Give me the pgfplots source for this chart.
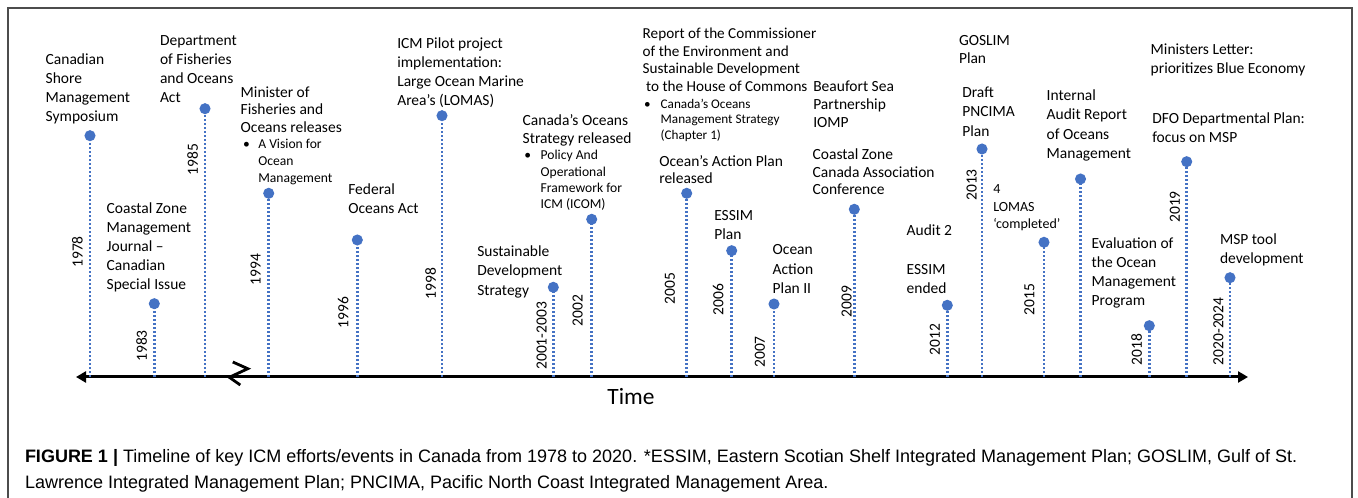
\documentclass[border=0pt]{standalone}
\usepackage{pgfplots}
\pgfplotsset{compat=1.18}
\usepackage{fontspec}
\setmainfont{Carlito}
\newfontfamily\capfont{Liberation Sans}
\usetikzlibrary{arrows.meta}
\definecolor{dotblue}{RGB}{68,114,196}
\newcommand{\blk}[3]{\fontsize{#1}{#2}\selectfont\begin{tabular}[t]{@{}l@{}}#3\end{tabular}}
\begin{document}
\begin{tikzpicture}[lab/.style={anchor=base west, inner sep=0pt, outer sep=0pt},
  yr/.style={rotate=90, anchor=center, inner sep=0pt, font=\fontsize{7.75bp}{9bp}\selectfont}]
\begin{axis}[width=679bp, height=249bp, scale only axis,
  xmin=0, xmax=1358, ymin=-121, ymax=377,
  axis lines=none, clip=false]
% frame
\draw[black!70, line width=0.8bp] (axis cs:8,-125) -- (axis cs:8,369) -- (axis cs:1352,369) -- (axis cs:1352,-125);
% time axis
\addplot[black, line width=1.5bp, {Triangle[length=5bp,width=5.5bp]}-{Triangle[length=5bp,width=5.5bp]}] coordinates {(76,0) (1248,0)};
\addplot[black, line width=1.4bp] coordinates {(232.8,15) (247.8,8.3) (229.3,-0.3) (240.3,-8)};
% stems
\addplot[ycomb, dotblue, line width=1.25bp, dash pattern=on 1bp off 1bp,
  mark=*, mark size=2.1bp, mark options={solid, fill=dotblue, draw=dotblue}] table {
x y
90 241.3
154.3 73.3
205 268.3
268.7 183.7
357.3 137
442 261.3
553.3 89.7
591.7 157.7
686.7 183.7
731.7 126.3
774 73
854.3 167.7
947.3 71.7
982 228
1044 134.7
1080.5 198
1149.3 51.3
1186.7 215.3
1230 99.3
};
% year labels
\node[yr] at (axis cs:77.5,125) {1978};
\node[yr] at (axis cs:141.7,31) {1983};
\node[yr] at (axis cs:192.7,217.5) {1985};
\node[yr] at (axis cs:255.7,107.5) {1994};
\node[yr] at (axis cs:343.3,64.5) {1996};
\node[yr] at (axis cs:430.7,93.3) {1998};
\node[yr] at (axis cs:541.7,41.2) {2001-2003};
\node[yr] at (axis cs:577.7,66.2) {2002};
\node[yr] at (axis cs:670,88.7) {2005};
\node[yr] at (axis cs:718.3,77.5) {2006};
\node[yr] at (axis cs:760,25) {2007};
\node[yr] at (axis cs:846.7,75.3) {2009};
\node[yr] at (axis cs:935,37.5) {2012};
\node[yr] at (axis cs:971.7,192) {2013};
\node[yr] at (axis cs:1029.3,77.5) {2015};
\node[yr] at (axis cs:1136.7,27.5) {2018};
\node[yr] at (axis cs:1175,170) {2019};
\node[yr] at (axis cs:1218.3,45.7) {2020-2024};
% event texts
\node[lab] at (axis cs:45.7,312) {\blk{7.75bp}{9.5bp}{Canadian\\Shore\\Management\\Symposium}};
\node[lab] at (axis cs:160,331.3) {\blk{7.75bp}{9.45bp}{Department\\of Fisheries\\and Oceans\\Act}};
\node[lab] at (axis cs:240.7,279.7) {\blk{7.75bp}{8.75bp}{Minister of\\Fisheries and\\Oceans releases}};
\node[lab] at (axis cs:243,228) {\fontsize{6.8bp}{8bp}\selectfont •};
\node[lab] at (axis cs:258.3,228) {\blk{6.8bp}{8.35bp}{A Vision for\\Ocean\\Management}};
\node[lab] at (axis cs:106.7,163.7) {\blk{7.75bp}{9.5bp}{Coastal Zone\\Management\\Journal –\\Canadian\\Special Issue}};
\node[lab] at (axis cs:348.3,182) {\blk{7.75bp}{9.15bp}{Federal\\Oceans Act}};
\node[lab] at (axis cs:397.3,328.7) {\blk{7.75bp}{9.55bp}{ICM Pilot project\\implementation:\\Large Ocean Marine\\Area’s (LOMAS)}};
\node[lab] at (axis cs:522.7,251) {\blk{7.75bp}{8.65bp}{Canada’s Oceans\\Strategy released}};
\node[lab] at (axis cs:524.3,217) {\fontsize{6.8bp}{8bp}\selectfont •};
\node[lab] at (axis cs:540.7,217) {\blk{6.8bp}{8.05bp}{Policy And\\Operational\\Framework for\\ICM (ICOM)}};
\node[lab] at (axis cs:477.3,120.3) {\blk{7.75bp}{9.6bp}{Sustainable\\Development\\Strategy}};
\node[lab] at (axis cs:642.7,338.7) {\blk{7.6bp}{8.9bp}{Report of the Commissioner\\of the Environment and\\Sustainable Development\\\ to the House of Commons}};
\node[lab] at (axis cs:644,268.7) {\fontsize{6.6bp}{8bp}\selectfont •};
\node[lab] at (axis cs:660.7,268.7) {\blk{6.6bp}{7.75bp}{Canada’s Oceans\\Management Strategy\\(Chapter 1)}};
\node[lab] at (axis cs:659.3,210.3) {\blk{7.75bp}{8.65bp}{Ocean’s Action Plan\\released}};
\node[lab] at (axis cs:813.3,285.3) {\blk{7.75bp}{8.9bp}{Beaufort Sea\\Partnership\\IOMP}};
\node[lab] at (axis cs:812.7,217) {\blk{7.75bp}{8.75bp}{Coastal Zone\\Canada Association\\Conference}};
\node[lab] at (axis cs:714.3,156.3) {\blk{7.75bp}{9.3bp}{ESSIM\\Plan}};
\node[lab] at (axis cs:772.7,122) {\blk{7.75bp}{9.6bp}{Ocean\\Action\\Plan II}};
\node[lab] at (axis cs:906.7,141) {\blk{7.75bp}{9.3bp}{Audit 2}};
\node[lab] at (axis cs:906.7,102) {\blk{7.75bp}{9.15bp}{ESSIM\\ended}};
\node[lab] at (axis cs:959,331) {\blk{7.75bp}{9bp}{GOSLIM\\Plan}};
\node[lab] at (axis cs:962.3,279.7) {\blk{7.75bp}{9.85bp}{Draft\\PNCIMA\\Plan}};
\node[lab] at (axis cs:993.3,183.7) {\blk{7bp}{8.9bp}{4\\LOMAS\\‘completed’}};
\node[lab] at (axis cs:1046.7,276.3) {\blk{7.75bp}{9.6bp}{Internal\\Audit Report\\of Oceans\\Management}};
\node[lab] at (axis cs:1091.7,128.7) {\blk{7.75bp}{9.6bp}{Evaluation of\\the Ocean\\Management\\Program}};
\node[lab] at (axis cs:1150.7,322) {\blk{7.75bp}{9.5bp}{Ministers Letter:\\prioritizes Blue Economy}};
\node[lab] at (axis cs:1152.3,253) {\blk{7.75bp}{9.35bp}{DFO Departmental Plan:\\focus on MSP}};
\node[lab] at (axis cs:1220,132) {\blk{7.75bp}{9.15bp}{MSP tool\\development}};
% axis title
\node[anchor=base, inner sep=0pt] at (axis cs:631,-28) {\fontsize{11.7bp}{14bp}\selectfont Time};
% caption
\node[lab] at (axis cs:25,-85.7) {\capfont\fontsize{9bp}{12bp}\selectfont\textbf{FIGURE 1 |} Timeline of key ICM efforts/events in Canada from 1978 to 2020. *ESSIM, Eastern Scotian Shelf Integrated Management Plan; GOSLIM, Gulf of St.};
\node[lab] at (axis cs:25,-111) {\capfont\fontsize{9bp}{12bp}\selectfont Lawrence Integrated Management Plan; PNCIMA, Pacific North Coast Integrated Management Area.};
\coordinate (bl) at (axis cs:0,-121);
\coordinate (tr) at (axis cs:1358,377);
\end{axis}
\pgfresetboundingbox
\path (bl) rectangle (tr);
\end{tikzpicture}
\end{document}
